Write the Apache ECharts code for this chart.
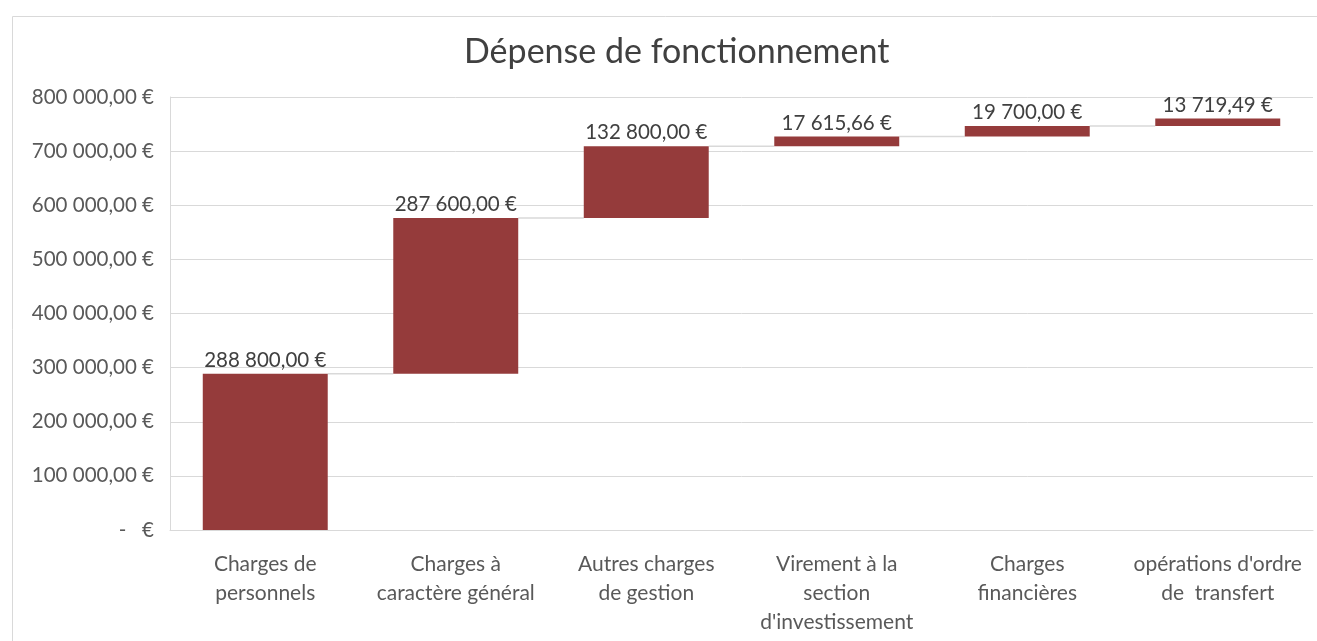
<!DOCTYPE html>
<html>
<head>
<meta charset="utf-8">
<script src="https://cdn.jsdelivr.net/npm/echarts@6/dist/echarts.min.js"></script>
<style>html,body{margin:0;padding:0;background:#fff;}#c{width:1317px;height:641px;}</style>
</head>
<body>
<div id="c"></div>
<script>
const categories = [
  "Charges de\npersonnels",
  "Charges à\ncaractère général",
  "Autres charges\nde gestion",
  "Virement à la\nsection\nd'investissement",
  "Charges\nfinancières",
  "opérations d'ordre\nde  transfert"
];
const values = [288800.00, 287600.00, 132800.00, 17615.66, 19700.00, 13719.49];
const yTicks = { min: 0, max: 800000, interval: 100000 };

// running totals for waterfall
const bases = [];
const ends = [];
let run = 0;
for (let i = 0; i < values.length; i++) { bases.push(run); run += values[i]; ends.push(run); }

function frFmt(v) {
  const s = v.toFixed(2);
  const parts = s.split('.');
  const ip = parts[0].replace(/\B(?=(\d{3})+(?!\d))/g, ' ');
  return ip + ',' + parts[1] + ' €';
}

const BAR_FRAC = 0.656;
const FONT = 'Lato';

const chart = echarts.init(document.getElementById('c'));
chart.setOption({
  animation: false,
  textStyle: { fontFamily: FONT },
  title: {
    text: 'Dépense de fonctionnement',
    left: 459, top: 30,
    textStyle: { fontFamily: FONT, fontSize: 34, fontWeight: 'normal', color: '#404040' }
  },
  graphic: [{
    type: 'rect', left: 10, top: 14, silent: true,
    shape: { width: 1330, height: 660 },
    style: { fill: 'none', stroke: '#d9d9d9', lineWidth: 1 }
  }],
  grid: { left: 170, right: 4, top: 97, bottom: 111 },
  xAxis: {
    type: 'category', data: categories,
    axisLine: { lineStyle: { color: '#d9d9d9' } },
    axisTick: { show: false },
    axisLabel: { color: '#595959', fontSize: 21, lineHeight: 29, margin: 20, interval: 0, fontFamily: FONT }
  },
  yAxis: {
    type: 'value', min: yTicks.min, max: yTicks.max, interval: yTicks.interval,
    axisLine: { show: true, lineStyle: { color: '#d9d9d9' } },
    axisTick: { show: false },
    splitLine: { lineStyle: { color: '#d9d9d9' } },
    axisLabel: {
      color: '#595959', fontSize: 20.5, margin: 16, fontFamily: FONT,
      formatter: v => v === 0 ? '-   €' : frFmt(v)
    }
  },
  series: [
    {
      type: 'custom', silent: true, z: 1,
      data: ends.slice(0, ends.length - 1).map((v, i) => [i, v]),
      renderItem: function (params, api) {
        const p = api.coord([api.value(0), api.value(1)]);
        const w = api.size([1, 0])[0];
        const bw = w * BAR_FRAC;
        return {
          type: 'line',
          shape: { x1: p[0] + bw / 2, y1: p[1], x2: p[0] + w - bw / 2, y2: p[1] },
          style: { stroke: '#d9d9d9', lineWidth: 1.5 }
        };
      }
    },
    {
      type: 'bar', stack: 'w', barWidth: (BAR_FRAC * 100) + '%', silent: true,
      itemStyle: { color: 'transparent' },
      data: bases
    },
    {
      type: 'bar', stack: 'w', barWidth: (BAR_FRAC * 100) + '%', z: 3,
      itemStyle: { color: '#953b3b' },
      label: {
        show: true, position: 'top', distance: 3,
        color: '#404040', fontSize: 20.5, fontFamily: FONT,
        formatter: p => frFmt(p.value)
      },
      data: values
    }
  ]
});
</script>
</body>
</html>
